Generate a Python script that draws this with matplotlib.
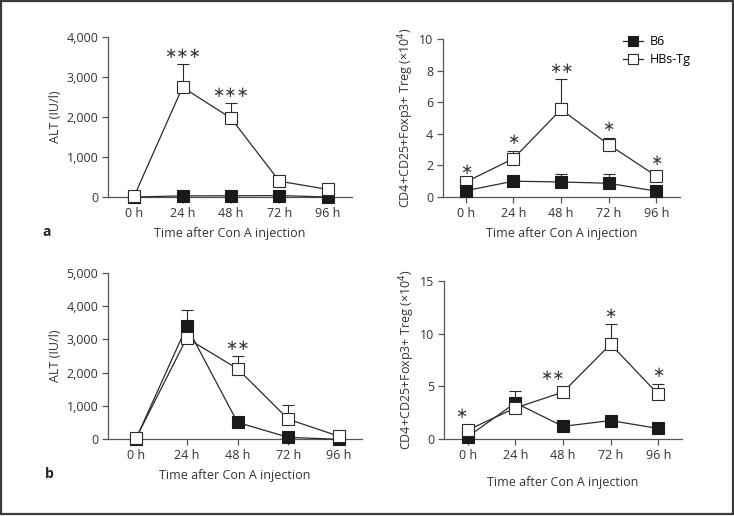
import matplotlib
matplotlib.use("Agg")
import matplotlib.pyplot as plt
import numpy as np
from matplotlib.patches import Rectangle

plt.rcParams['font.family'] = ['Open Sans', 'DejaVu Sans']

# ---- data ----
time_labels = ['0 h', '24 h', '48 h', '72 h', '96 h']

# panel a, left: ALT (IU/l)
a_alt_b6 = [0, 28, 30, 35, 0]
a_alt_b6_err = [0, 0, 0, 0, 0]
a_alt_tg = [20, 2745, 1970, 395, 190]
a_alt_tg_err = [0, 575, 380, 130, 0]
a_alt_stars = ['', '***', '***', '', '']

# panel a, right: Treg (x10^4)
a_treg_b6 = [0.4, 1.0, 0.95, 0.87, 0.37]
a_treg_b6_err = [0, 0, 0.5, 0.58, 0]
a_treg_tg = [0.95, 2.43, 5.54, 3.32, 1.33]
a_treg_tg_err = [0.1, 0.49, 1.9, 0.42, 0.28]
a_treg_stars = ['*', '*', '**', '*', '*']

# panel b, left: ALT (IU/l)
b_alt_b6 = [0, 3390, 500, 50, -10]
b_alt_b6_err = [0, 500, 0, 0, 0]
b_alt_tg = [20, 3040, 2115, 595, 80]
b_alt_tg_err = [0, 0, 370, 435, 0]
b_alt_stars = ['', '', '**', '', '']

# panel b, right: Treg (x10^4)
b_treg_b6 = [0.22, 3.43, 1.2, 1.75, 1.0]
b_treg_b6_err = [0, 1.1, 0, 0, 0.5]
b_treg_tg = [0.85, 2.95, 4.45, 9.0, 4.25]
b_treg_tg_err = [0, 0, 0, 1.9, 1.0]
b_treg_stars = ['*', '', '**', '*', '*']

alt_ticks_a = [0, 1000, 2000, 3000, 4000]
alt_ticks_b = [0, 1000, 2000, 3000, 4000, 5000]
treg_ticks_a = [0, 2, 4, 6, 8, 10]
treg_ticks_b = [0, 5, 10, 15]

INK = '#2b2b2b'
AXC = '#555555'
TXT = '#333333'
FS = 9

fig = plt.figure(figsize=(7.34, 5.16), dpi=100)
W, H = 734, 516


def px_axes(x0, x1, ytop, ybot):
    return fig.add_axes([x0 / W, (H - ybot) / H, (x1 - x0) / W, (ybot - ytop) / H])


def panel(ax, b6, b6_err, tg, tg_err, stars, yticks, ylabel, xlim,
          b6_front, star_dx=None):
    x = np.arange(len(time_labels))
    b6 = np.array(b6, float)
    tg = np.array(tg, float)
    b6_err = np.array(b6_err, float)
    tg_err = np.array(tg_err, float)
    zb, zt = (4, 3) if b6_front else (3, 4)

    for y, e, z in ((b6, b6_err, zb), (tg, tg_err, zt)):
        ax.errorbar(x, y, yerr=[np.zeros_like(e), e], fmt='none',
                    ecolor=INK, elinewidth=0.8, capsize=4, capthick=0.8,
                    zorder=z - 0.5, clip_on=False)
    ax.plot(x, b6, '-s', color=INK, lw=0.9, ms=8, mfc='#1a1a1a',
            mec='#1a1a1a', mew=0.8, zorder=zb, clip_on=False, label='B6')
    ax.plot(x, tg, '-s', color=INK, lw=0.9, ms=8, mfc='white',
            mec=INK, mew=0.8, zorder=zt, clip_on=False, label='HBs-Tg')

    # significance marks above the HBs-Tg point / error bar
    if star_dx is None:
        star_dx = [0] * len(x)
    for i, s in enumerate(stars):
        if not s:
            continue
        top = max(tg[i] + tg_err[i], b6[i] + b6_err[i]) if tg_err[i] > 0 else tg[i]
        off = 2.5 if tg_err[i] > 0 else 6.5
        ax.annotate('\u2217' * len(s), xy=(x[i], top), xytext=(star_dx[i], off),
                    textcoords='offset points', ha='center', va='bottom',
                    fontsize=10.5, color='#3a3a3a', family='DejaVu Sans')

    ax.set_xlim(*xlim)
    ax.set_ylim(yticks[0], yticks[-1])
    ax.set_xticks(x)
    ax.set_xticklabels(time_labels)
    ax.set_yticks(yticks)
    if yticks[-1] >= 1000:
        ax.set_yticklabels([f'{v:,}' for v in yticks])
    ax.set_ylabel(ylabel, fontsize=FS, color=TXT, labelpad=3)
    ax.set_xlabel('Time after Con A injection', fontsize=FS,
                  color=TXT, labelpad=5)

    for side in ('top', 'right'):
        ax.spines[side].set_visible(False)
    for side in ('left', 'bottom'):
        ax.spines[side].set_color(AXC)
        ax.spines[side].set_linewidth(0.9)
    ax.tick_params(axis='both', colors=AXC, labelcolor=TXT,
                   labelsize=FS, length=4, width=0.9, pad=3)
    ax.patch.set_alpha(0)


treg_label = 'CD4+CD25+Foxp3+ Treg (×10$^{4}$)'

ax1 = px_axes(108, 352, 37, 197)
panel(ax1, a_alt_b6, a_alt_b6_err, a_alt_tg, a_alt_tg_err, a_alt_stars,
      alt_ticks_a, 'ALT (IU/l)', (-0.54, 4.5), False)

ax2 = px_axes(443, 680, 39, 197)
panel(ax2, a_treg_b6, a_treg_b6_err, a_treg_tg, a_treg_tg_err, a_treg_stars,
      treg_ticks_a, treg_label, (-0.48, 4.5), True)
ax2.yaxis.labelpad = 2
leg = ax2.legend(loc='upper left', bbox_to_anchor=(0.74, 1.055), frameon=False,
                 fontsize=FS, handlelength=1.6, handletextpad=0.5,
                 labelspacing=0.4, borderaxespad=0)
for h in leg.legend_handles:
    h.set_markersize(6.5)

ax3 = px_axes(108, 362, 273, 439)
panel(ax3, b_alt_b6, b_alt_b6_err, b_alt_tg, b_alt_tg_err, b_alt_stars,
      alt_ticks_b, 'ALT (IU/l)', (-0.55, 4.45), False)

ax4 = px_axes(444, 682, 281, 439)
panel(ax4, b_treg_b6, b_treg_b6_err, b_treg_tg, b_treg_tg_err, b_treg_stars,
      treg_ticks_b, treg_label, (-0.5, 4.5), False,
      star_dx=[-5, 0, -8, 0, 0])
ax4.yaxis.labelpad = 2
ax4.xaxis.labelpad = 10

# panel letters
fig.text(47 / W, 1 - 232 / H, 'a', fontsize=10, fontweight='bold',
         ha='center', va='center', color='#222222')
fig.text(49 / W, 1 - 474 / H, 'b', fontsize=10, fontweight='bold',
         ha='center', va='center', color='#222222')

# outer frame
fig.patches.append(Rectangle((0.0015, 0.003), 0.9965, 0.9945,
                             transform=fig.transFigure, fill=False,
                             edgecolor='#3a3a3a', linewidth=1.6))

fig.savefig('out.png', dpi=100, facecolor='white')
